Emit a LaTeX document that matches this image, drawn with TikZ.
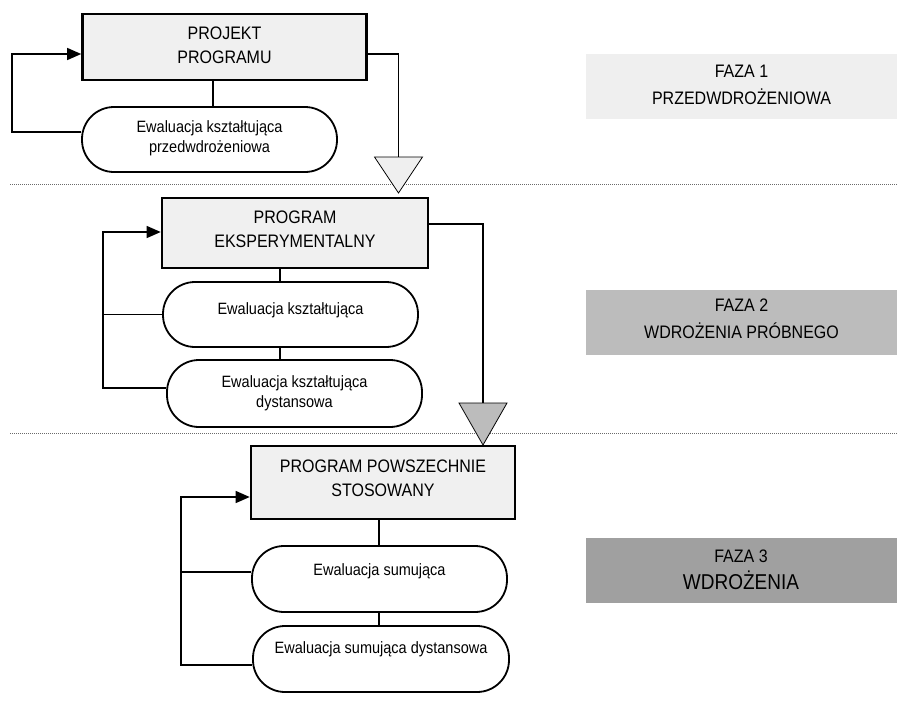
\documentclass[tikz,border=0pt]{standalone}
\usepackage{fontspec}
\usepackage{graphicx}
\setmainfont{Liberation Sans}
\usetikzlibrary{arrows.meta,calc}
\definecolor{boxfill}{HTML}{F0F0F0}
\definecolor{faza1}{HTML}{EFEFEF}
\definecolor{faza2}{HTML}{BCBCBC}
\definecolor{faza3}{HTML}{A0A0A0}
\definecolor{tri1}{HTML}{EFEFEF}
\definecolor{tri2}{HTML}{BCBCBC}
\definecolor{sepcol}{HTML}{6A6A6A}
% centred block of slightly tall lines, optionally lifted without changing its size
\newcommand\cell[2][0pt]{\raisebox{#1}[\height][\depth]{\scalebox{1}[1.13]{\begin{tabular}{@{}c@{}}#2\end{tabular}}}}

\begin{document}
\begin{tikzpicture}[x=1pt,y=-1pt,
  stage/.style={rectangle, draw, line width=2.6pt, fill=boxfill, inner sep=0pt,
                font=\fontsize{16}{21.2}\selectfont},
  evalbox/.style={rectangle, draw, line width=1.8pt, fill=white, rounded corners=32pt,
                inner sep=0pt, font=\fontsize{14.5}{17.5}\selectfont},
  phase/.style={rectangle, inner sep=0pt, minimum width=311, minimum height=65,
                font=\fontsize{16}{23.5}\selectfont},
  link/.style={line width=1.3pt},
  feedback/.style={link, -{Triangle[length=14pt,width=12pt]}},
  sep/.style={sepcol, line width=1pt, densely dotted},
  tri/.style={draw, line width=0.8pt, line join=miter}]

\useasboundingbox (0,0) rectangle (897,702);

% phase separators
\coordinate (s1l) at (10,184);  \coordinate (s1r) at (897,184);
\coordinate (s2l) at (10,433);  \coordinate (s2r) at (897,433);
\draw[sep] (s1l) -- (s1r);
\draw[sep] (s2l) -- (s2r);

% phase labels
\node[phase, fill=faza1] (p1) at (741.5,86.5) {\cell[1pt]{FAZA 1\\PRZEDWDROŻENIOWA}};
\node[phase, fill=faza2] (p2) at (741.5,322.5) {\cell[3pt]{FAZA 2\\WDROŻENIA PRÓBNEGO}};
\node[phase, fill=faza3] (p3) at (741.0,570.5) {\cell{FAZA 3\\\fontsize{19}{23.5}\selectfont WDROŻENIA}};

% phase 1
\node[stage, minimum width=284, minimum height=66] (b1) at (224.5,47) {\cell{PROJEKT\\PROGRAMU}};
\node[evalbox, minimum width=255, minimum height=65] (e1) at (209.5,139.5)
  {\cell[1pt]{Ewaluacja kształtująca\\przedwdrożeniowa}};

% phase 2
\node[stage, minimum width=266, minimum height=70] (b2) at (295,233) {\cell[2pt]{PROGRAM\\EKSPERYMENTALNY}};
\node[evalbox, minimum width=255, minimum height=65] (e2) at (290.5,314.5) {\cell[4pt]{Ewaluacja kształtująca}};
\node[evalbox, minimum width=255, minimum height=67] (e3) at (294.5,393.5)
  {\cell{Ewaluacja kształtująca\\dystansowa}};

% phase 3
\node[stage, minimum width=264, minimum height=73] (b3) at (383,482.5) {\cell[3pt]{PROGRAM POWSZECHNIE\\STOSOWANY}};
\node[evalbox, minimum width=255, minimum height=66] (e4) at (379.5,579) {\cell[7pt]{Ewaluacja sumująca}};
\node[evalbox, minimum width=256, minimum height=66] (e5) at (381,659) {\cell[9pt]{Ewaluacja sumująca dystansowa}};

% transition markers
\coordinate (t1) at (398.5,157);
\coordinate (t2) at (483,403);
\draw[link] ([yshift=-7pt]b1.east) -| (t1);
\draw[link] ([yshift=9pt]b2.east) -| (t2);
\draw[tri, fill=tri1] ([xshift=-24pt]t1) -- ([xshift=24pt]t1) -- ([yshift=-36pt]t1) -- cycle;
\draw[tri, fill=tri2] ([xshift=-24pt]t2) -- ([xshift=24pt]t2) -- ([yshift=-42pt]t2) -- cycle;

% vertical links between stages and evaluations
\draw[link] ([xshift=-11.5pt]b1.south) -- ([xshift=3.5pt]e1.north);
\draw[link] ([xshift=-15pt]b2.south) -- ([xshift=-10.5pt]e2.north);
\draw[link] ([xshift=-10.5pt]e2.south) -- ([xshift=-14.5pt]e3.north);
\draw[link] ([xshift=-4pt]b3.south) -- ([xshift=-0.5pt]e4.north);
\draw[link] ([xshift=-0.5pt]e4.south) -- ([xshift=-2pt]e5.north);

% feedback loops
\coordinate (f1) at (12,132);
\draw[feedback] ([yshift=7.5pt]e1.west) -- (f1) |- ([yshift=-7pt]b1.west);

\coordinate (f2) at (103,388);
\draw[feedback] ([yshift=5.5pt]e3.west) -- (f2) |- ([yshift=1pt]b2.west);
\draw[link] (e2.west) -- (e2.west -| f2);

\coordinate (f3) at (181,665);
\draw[feedback] ([yshift=-6pt]e5.west) -- (f3) |- ([yshift=-14.5pt]b3.west);
\draw[link] ([yshift=7pt]e4.west) -- ([yshift=7pt]e4.west -| f3);
\end{tikzpicture}
\end{document}
